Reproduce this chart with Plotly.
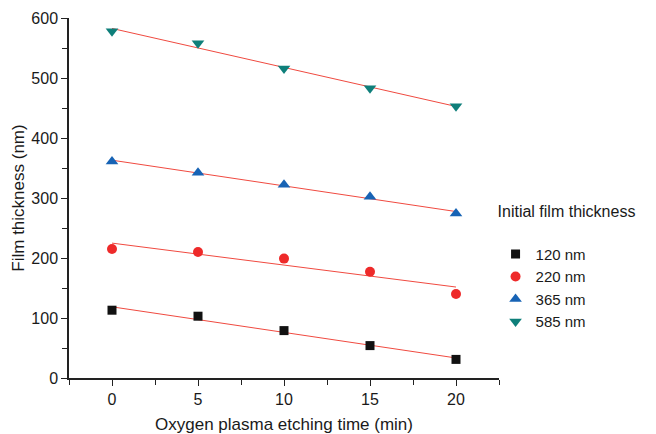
import numpy as np
import plotly.graph_objects as go

time_min = [0, 5, 10, 15, 20]
t120 = [113, 103, 79, 54, 31]
t220 = [215, 210, 199, 177, 140]
t365 = [361, 342, 322, 302, 274]
t585 = [578, 558, 516, 483, 453]
series_names = ["120 nm", "220 nm", "365 nm", "585 nm"]

series = [t120, t220, t365, t585]
symbols = ["square", "circle", "triangle-up", "triangle-down"]
colors = ["#111111", "#ee2a2a", "#1763b5", "#0e7f7a"]
sizes = [9, 10, 11, 11]

fig = go.Figure()
# fitted lines
for ys in series:
    k, b = np.polyfit(time_min, ys, 1)
    xs = [time_min[0], time_min[-1]]
    fig.add_trace(go.Scatter(x=xs, y=[k * x + b for x in xs], mode="lines",
                             line=dict(color="#f04a40", width=1), showlegend=False,
                             hoverinfo="skip"))
for ys, name, sym, col, sz in zip(series, series_names, symbols, colors, sizes):
    fig.add_trace(go.Scatter(x=time_min, y=ys, mode="markers", name=name,
                             marker=dict(symbol=sym, color=col, size=sz, line=dict(width=0))))

fig.update_layout(
    width=656, height=434,
    margin=dict(l=69, r=157, t=18, b=56, autoexpand=False),
    paper_bgcolor="white", plot_bgcolor="white",
    font=dict(family="Liberation Sans, Arial, sans-serif", size=16, color="#1a1a1a"),
    showlegend=True,
    legend=dict(title=dict(text="Initial film thickness<br> ", font=dict(size=16)),
                x=0.992, xanchor="left", y=0.505, yanchor="top",
                font=dict(size=15), itemwidth=30, tracegroupgap=0,
                bgcolor="rgba(0,0,0,0)"),
)
fig.update_xaxes(range=[-2.5, 22.5], tickvals=[0, 5, 10, 15, 20], ticks="outside",
                 ticklen=6, tickwidth=1.2, tickcolor="#222", automargin=False,
                 showline=True, linecolor="#222", linewidth=1.5, showgrid=False, zeroline=False,
                 minor=dict(tickvals=[-2.5, 2.5, 7.5, 12.5, 17.5, 22.5], ticks="outside",
                            ticklen=5, tickcolor="#222", tickwidth=1.2),
                 title=dict(text="Oxygen plasma etching time (min)", font=dict(size=17), standoff=12),
                 tickfont=dict(size=16))
fig.update_yaxes(range=[0, 600], tickvals=[0, 100, 200, 300, 400, 500, 600], ticks="outside",
                 ticklen=6, tickwidth=1.2, tickcolor="#222", automargin=False,
                 showline=True, linecolor="#222", linewidth=1.5, showgrid=False, zeroline=False,
                 minor=dict(tickvals=[50, 150, 250, 350, 450, 550], ticks="outside",
                            ticklen=5, tickcolor="#222", tickwidth=1.2),
                 title=dict(text="Film thickness (nm)", font=dict(size=17), standoff=2),
                 tickfont=dict(size=16))

fig.write_html("out.html", config={"displayModeBar": False},
               post_script="document.body.style.margin='0';document.body.style.overflow='hidden';")
